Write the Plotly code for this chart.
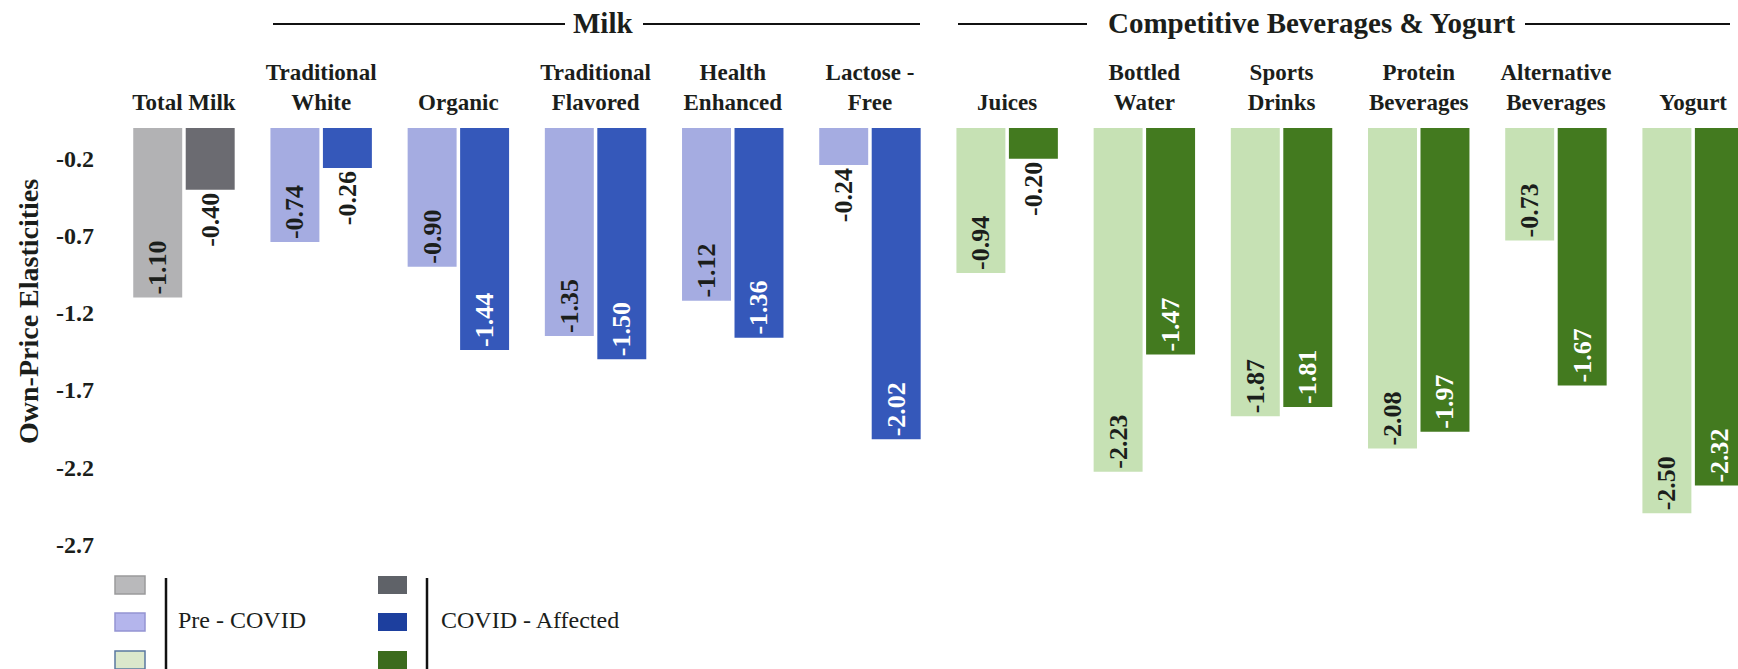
import plotly.graph_objects as go

# ---------------- data ----------------
categories = ["Total Milk", "Traditional<br>White", "Organic", "Traditional<br>Flavored",
              "Health<br>Enhanced", "Lactose -<br>Free", "Juices", "Bottled<br>Water",
              "Sports<br>Drinks", "Protein<br>Beverages", "Alternative<br>Beverages", "Yogurt"]
segment = ["total", "milk", "milk", "milk", "milk", "milk",
           "comp", "comp", "comp", "comp", "comp", "comp"]
pre_covid = [-1.10, -0.74, -0.90, -1.35, -1.12, -0.24, -0.94, -2.23, -1.87, -2.08, -0.73, -2.50]
covid_affected = [-0.40, -0.26, -1.44, -1.50, -1.36, -2.02, -0.20, -1.47, -1.81, -1.97, -1.67, -2.32]
y_ticks = [-0.2, -0.7, -1.2, -1.7, -2.2, -2.7]
y_tick_labels = ["-0.2", "-0.7", "-1.2", "-1.7", "-2.2", "-2.7"]
group_titles = ["Milk", "Competitive Beverages & Yogurt"]
legend_labels = ["Pre - COVID", "COVID - Affected"]
y_title = "Own-Price Elasticities"

# ---------------- styles ----------------
SERIF = "Liberation Serif, Times New Roman, serif"
DARK = "#1b1e1b"
pre_colors = {"total": "#b2b2b4", "milk": "#a5ace1", "comp": "#c6e1b4"}
covid_colors = {"total": "#6b6b71", "milk": "#3558ba", "comp": "#437a1f"}
legend_pre = [("#b9b9bb", "#9a9a9c"), ("#b4b5ec", "#9494d2"), ("#dbe8cc", "#5a78a0")]
legend_covid = ["#5f6268", "#1d3f9e", "#3b6b1d"]

W, H = 1738, 669
L, R, T, B = 100, 0, 128, 94
PW, PH = W - L - R, H - T - B


def px(x):
    return (x - L) / PW


def py(y):
    return (H - B - y) / PH


def pos(vals):
    return ["outside" if abs(v) < 0.5 else "inside" for v in vals]


def fmt(vals):
    return ["%.2f" % v for v in vals]


pre_pos = pos(pre_covid)
cov_pos = pos(covid_affected)

fig = go.Figure()
fig.add_trace(go.Bar(
    x=categories, y=pre_covid, name=legend_labels[0],
    marker=dict(color=[pre_colors[s] for s in segment], line=dict(width=0)),
    text=fmt(pre_covid), textposition=pre_pos, textangle=-90,
    insidetextanchor="end", constraintext="none", cliponaxis=False,
    textfont=dict(family=SERIF, size=26, weight="bold", color=DARK),
))
fig.add_trace(go.Bar(
    x=categories, y=covid_affected, name=legend_labels[1],
    marker=dict(color=[covid_colors[s] for s in segment], line=dict(width=0)),
    text=fmt(covid_affected), textposition=cov_pos, textangle=-90,
    insidetextanchor="end", constraintext="none", cliponaxis=False,
    textfont=dict(family=SERIF, size=26, weight="bold",
                  color=["white" if p == "inside" else DARK for p in cov_pos]),
))

fig.update_layout(
    width=W, height=H, autosize=False,
    margin=dict(l=L, r=R, t=T, b=B, pad=0),
    plot_bgcolor="white", paper_bgcolor="white",
    barmode="group", bargap=0.235, bargroupgap=0.067,
    showlegend=False,
    font=dict(family=SERIF, color=DARK),
)
fig.update_xaxes(
    type="category", side="top", range=[-0.612, 11.327],
    showgrid=False, showline=False, zeroline=False, ticks="",
    ticklabelstandoff=12,
    tickfont=dict(family=SERIF, size=23, weight="bold", color=DARK),
)
fig.update_yaxes(
    range=[-2.9, 0], tickvals=y_ticks, ticktext=y_tick_labels,
    showgrid=False, showline=False, zeroline=False, ticks="",
    ticklabelstandoff=5,
    tickfont=dict(family=SERIF, size=24, weight="bold", color=DARK),
)

annotations = [
    dict(text="<b>%s</b>" % y_title, xref="paper", yref="paper", x=px(28), y=py(312),
         textangle=-90, showarrow=False, xanchor="center", yanchor="middle",
         font=dict(family=SERIF, size=28, color=DARK)),
    dict(text="<b>%s</b>" % group_titles[0], xref="paper", yref="paper", x=px(603), y=py(23),
         showarrow=False, xanchor="center", yanchor="middle",
         font=dict(family=SERIF, size=29, color=DARK)),
    dict(text="<b>%s</b>" % group_titles[1], xref="paper", yref="paper", x=px(1312), y=py(23),
         showarrow=False, xanchor="center", yanchor="middle",
         font=dict(family=SERIF, size=29, color=DARK)),
    dict(text=legend_labels[0], xref="paper", yref="paper", x=px(176), y=py(620),
         showarrow=False, xanchor="left", yanchor="middle",
         font=dict(family=SERIF, size=24, color=DARK)),
    dict(text=legend_labels[1], xref="paper", yref="paper", x=px(439), y=py(620),
         showarrow=False, xanchor="left", yanchor="middle",
         font=dict(family=SERIF, size=24, color=DARK)),
]
fig.update_layout(annotations=annotations)

shapes = []
# header rules
for x0, x1 in [(273, 565), (643, 920), (958, 1087), (1525, 1730)]:
    shapes.append(dict(type="line", xref="paper", yref="paper",
                       x0=px(x0), x1=px(x1), y0=py(24), y1=py(24),
                       line=dict(color="#111111", width=2)))
# legend squares
rows = [(576, 594), (613, 631), (651, 669)]
for (y0, y1), (fc, lc) in zip(rows, legend_pre):
    shapes.append(dict(type="rect", xref="paper", yref="paper",
                       x0=px(115), x1=px(145), y0=py(y1), y1=py(y0),
                       fillcolor=fc, line=dict(color=lc, width=1.5)))
for (y0, y1), fc in zip(rows, legend_covid):
    shapes.append(dict(type="rect", xref="paper", yref="paper",
                       x0=px(378), x1=px(407), y0=py(y1), y1=py(y0),
                       fillcolor=fc, line=dict(width=0)))
for x in (166, 427):
    shapes.append(dict(type="line", xref="paper", yref="paper",
                       x0=px(x), x1=px(x), y0=py(578), y1=py(669),
                       line=dict(color="#111111", width=2.5)))
fig.update_layout(shapes=shapes)

fig.write_html("out.html")
